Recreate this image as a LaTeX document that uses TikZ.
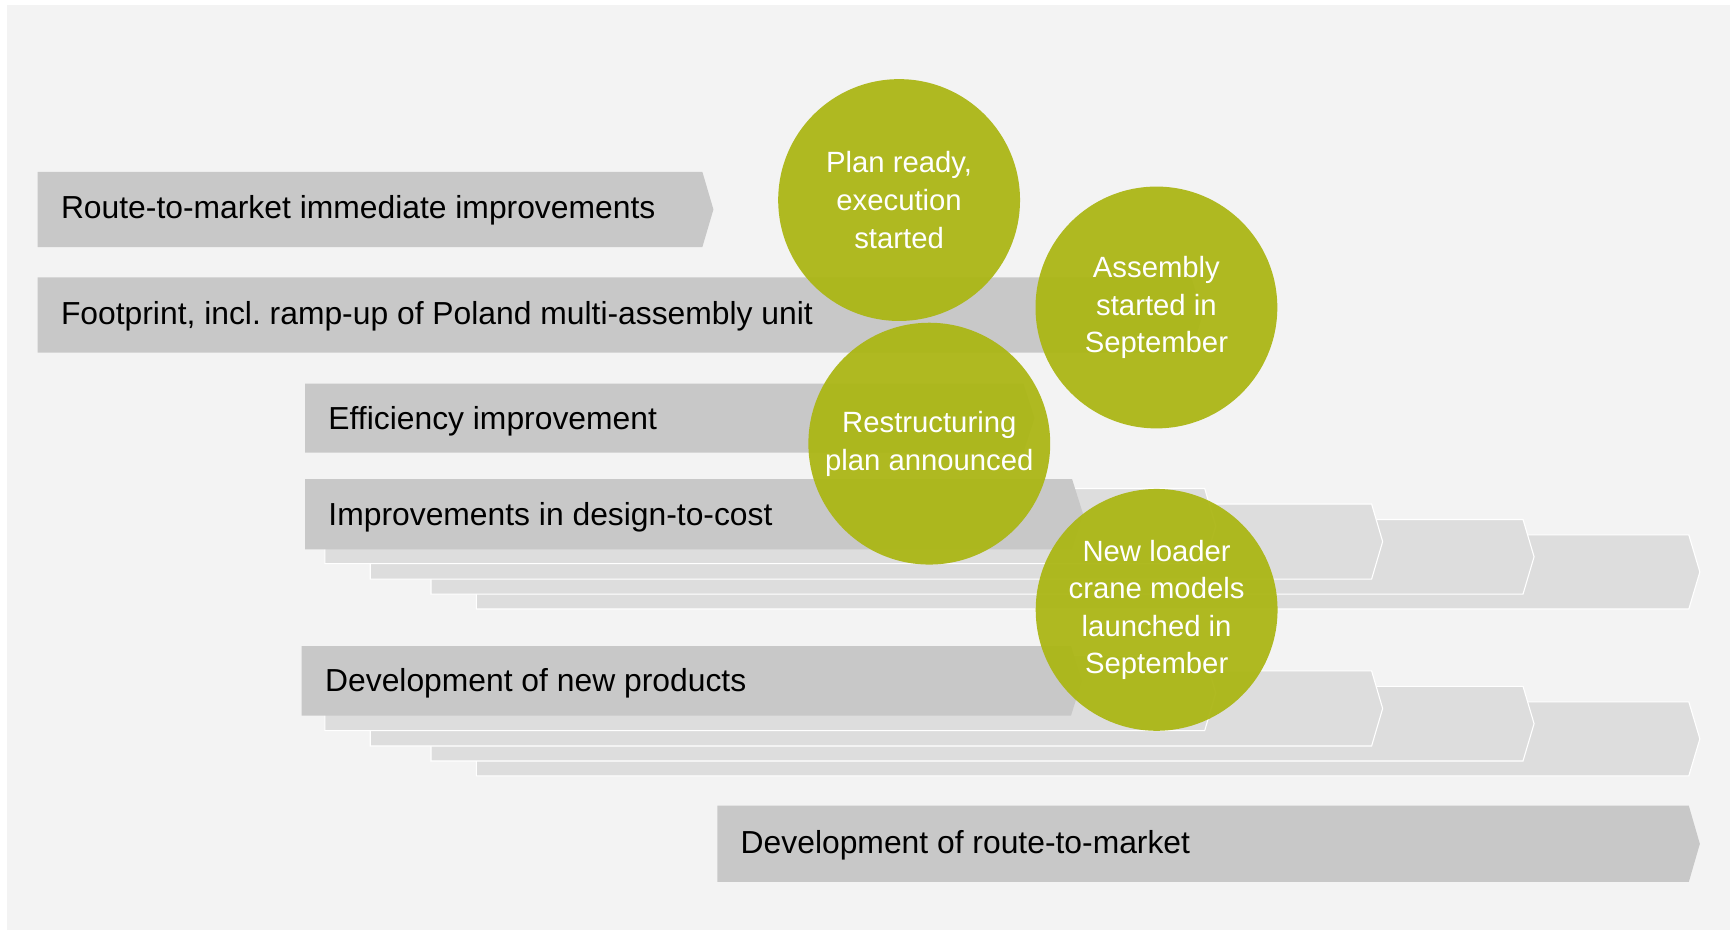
\documentclass[tikz,border=0pt]{standalone}
\usepackage{fontspec}
\setmainfont{Liberation Sans}
\frenchspacing

\definecolor{pagegrey}{HTML}{F3F3F3}
\definecolor{bardark}{HTML}{C8C8C8}
\definecolor{barlight}{HTML}{DDDDDD}
\definecolor{olivegreen}{HTML}{ABB614}

% chevron bar: [style]{left}{top}{bottom}{end of body}
\newcommand{\chevbar}[5][]{%
  \path[#1] (#2,#3) -- (#5,#3) -- ({#5+10},{(#3+#4)/2}) -- (#5,#4) -- (#2,#4) -- cycle;}

\tikzset{
  darkbar/.style={fill=bardark},
  lightbar/.style={fill=barlight, draw=white, line width=1pt, line join=miter},
  bartext/.style={anchor=base west, inner sep=0pt, text=black,
    font=\fontsize{28.8}{34}\selectfont},
  milestone/.style={circle, minimum size=218.8pt, inner sep=0pt,
    fill=olivegreen, fill opacity=0.94, text opacity=1, text=white,
    align=center, font=\fontsize{26.5}{34}\selectfont}
}

\begin{document}
\begin{tikzpicture}[x=1pt, y=-1pt]
        \useasboundingbox (0,0) rectangle (1568,841);
        \fill[pagegrey] (6,4.5) rectangle (1565,841);

        % stacked layers behind design-to-cost and new products
        \foreach \dy in {0,151} {
            \chevbar[lightbar]{431}{484+\dy}{551+\dy}{1528}
            \chevbar[lightbar]{390}{470+\dy}{537.5+\dy}{1378}
            \chevbar[lightbar]{335}{456+\dy}{524+\dy}{1241}
            \chevbar[lightbar]{294}{442+\dy}{510+\dy}{1090}
        }

        % main bars
        \chevbar[darkbar]{34}{155.5}{223.5}{635.5}
        \chevbar[darkbar]{34}{251}{319}{1078}
        \chevbar[darkbar]{276}{347}{409.5}{926}
        \chevbar[darkbar]{276}{433.5}{497}{970}
        \chevbar[darkbar]{273}{584.5}{647.5}{969}
        \chevbar[darkbar]{649}{729}{798}{1528}

        \node[bartext] (rtm) at (55,197.5) {Route-to-market immediate improvements};
        \node[bartext] (footprint) at (55,293.5) {Footprint, incl. ramp-up of Poland multi-assembly unit};
        \node[bartext] (efficiency) at (297,388.5) {Efficiency improvement};
        \node[bartext] (dtc) at (297,475.5) {Improvements in design-to-cost};
        \node[bartext] (newprod) at (294,626) {Development of new products};
        \node[bartext] (devrtm) at (670,772) {Development of route-to-market};

        % milestones
        \node[milestone] (plan) at (813.5,181) {Plan ready,\\execution\\started};
        \node[milestone] (assembly) at (1046.3,278.2) {Assembly\\started in\\September};
        \node[milestone] (restruct) at (840.8,401.4) {Restructuring\\plan announced};
        \node[milestone] (loader) at (1046.5,551.8) {New loader\\crane models\\launched in\\September};
\end{tikzpicture}
\end{document}
